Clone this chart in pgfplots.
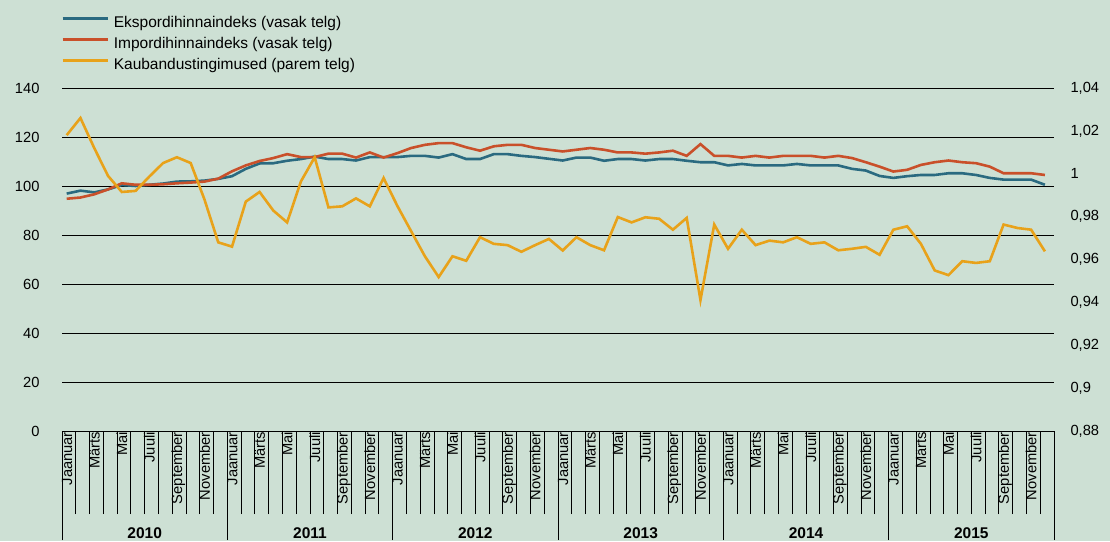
\documentclass[border=0pt]{standalone}
\usepackage{fontspec}
\setmainfont{Liberation Sans}
\usepackage{pgfplots}
\pgfplotsset{compat=1.18}
\usepackage{pgfplotstable}

\definecolor{bgcol}{RGB}{205,224,212}
\definecolor{expcol}{RGB}{42,106,128}
\definecolor{impcol}{RGB}{201,80,42}
\definecolor{totcol}{RGB}{232,162,26}

\newcommand\tf{\fontsize{14.7}{17}\selectfont}
\newcommand\lf{\fontsize{15.5}{18}\selectfont}

% month index (shifted into its band), export and import index (left), terms of trade (right)
\pgfplotstableread{
x exp imp tot
0.34 96.9 94.8 1.018
1.34 98.1 95.3 1.026
2.34 97.4 96.6 1.012
3.34 98.6 98.6 0.999
4.34 100.4 101.1 0.9915
5.34 100.0 100.5 0.992
6.34 100.5 100.5 0.9987
7.34 101.0 100.7 1.005
8.34 101.8 101.1 1.0077
9.34 101.9 101.4 1.005
10.34 102.2 101.8 0.988
11.34 102.9 103.0 0.968
12.34 104.0 106.0 0.966
13.34 107.0 108.4 0.987
14.34 109.2 110.2 0.9915
15.34 109.3 111.4 0.9828
16.34 110.3 113.0 0.9773
17.34 111.0 111.8 0.9964
18.34 112.0 111.8 1.0077
19.34 111.0 113.2 0.9843
20.34 111.0 113.2 0.9848
21.34 110.4 111.6 0.9885
22.34 111.8 113.7 0.9848
23.34 111.8 111.6 0.998
24.34 111.8 113.4 0.985
25.34 112.3 115.5 0.9732
26.34 112.3 116.8 0.9615
27.34 111.6 117.5 0.9518
28.34 113.0 117.5 0.9615
29.34 111.0 115.8 0.9594
30.34 111.0 114.4 0.9704
31.34 113.0 116.2 0.9673
32.34 113.0 116.8 0.9667
33.34 112.3 116.8 0.9636
34.34 111.8 115.5 0.9667
35.34 111.1 114.8 0.9696
36.34 110.4 114.1 0.9642
37.34 111.6 114.8 0.9704
38.34 111.6 115.5 0.9667
39.34 110.3 114.8 0.9643
40.34 111.0 113.7 0.9798
41.34 111.0 113.7 0.9773
42.34 110.4 113.2 0.9797
43.34 111.0 113.7 0.979
44.34 111.0 114.4 0.9739
45.34 110.3 112.3 0.9794
46.34 109.7 117.1 0.9411
47.34 109.7 112.3 0.9763
48.34 108.4 112.3 0.965
49.34 109.0 111.6 0.9739
50.34 108.4 112.3 0.9667
51.34 108.4 111.6 0.9688
52.34 108.4 112.3 0.968
53.34 109.0 112.3 0.9704
54.34 108.4 112.3 0.9673
55.34 108.4 111.6 0.968
56.34 108.4 112.3 0.9643
57.34 107.0 111.4 0.965
58.34 106.3 109.7 0.9659
59.34 104.1 107.9 0.9622
60.34 103.3 105.9 0.9739
61.34 104.0 106.6 0.9755
62.34 104.5 108.6 0.9673
63.34 104.5 109.7 0.9549
64.34 105.2 110.4 0.9527
65.34 105.2 109.7 0.9592
66.34 104.5 109.3 0.9584
67.34 103.3 107.9 0.9592
68.34 102.6 105.2 0.9763
69.34 102.6 105.2 0.9747
70.34 102.6 105.2 0.9739
71.34 100.5 104.5 0.9638
}\trade

\begin{document}
\begin{tikzpicture}
\fill[bgcol] (0,0) rectangle (1110pt,541pt);
\useasboundingbox (0,0) rectangle (1110pt,541pt);

\begin{axis}[
  at={(62pt,110pt)}, anchor=south west,
  scale only axis, width=992pt, height=343pt,
  xmin=0, xmax=72, ymin=0, ymax=140,
  clip=false,
  axis line style={draw=none},
  tick pos=left, tick align=outside,
  major tick length=0pt,
  ytick={0,20,...,140},
  ymajorgrids, y grid style={black, line width=0.9pt},
  yticklabel style={font=\tf, xshift=-19pt},
  /pgf/number format/assume math mode=true,
  xtick={0,2,...,70},
  xticklabels={Jaanuar,Märts,Mai,Juuli,September,November,
    Jaanuar,Märts,Mai,Juuli,September,November,
    Jaanuar,Märts,Mai,Juuli,September,November,
    Jaanuar,Märts,Mai,Juuli,September,November,
    Jaanuar,Märts,Mai,Juuli,September,November,
    Jaanuar,Märts,Mai,Juuli,September,November},
  xticklabel style={font=\tf, xshift=6pt, rotate=90, anchor=east,
    inner sep=1pt, text height=11pt, text depth=3pt},
  minor xtick={0,...,72},
  minor tick length=83pt,
  minor tick style={black, line width=0.9pt},
  extra x ticks={0,12,...,72},
  extra x tick labels={},
  extra x tick style={major tick length=109pt, tick style={black, line width=0.9pt}},
  legend style={at={(0,1)}, anchor=south west, yshift=14pt, xshift=-1pt,
    draw=none, fill=none, font=\lf, inner sep=0pt, row sep=3.5pt,
    nodes={inner sep=1pt, text height=12pt, text depth=3.5pt},
    /tikz/every odd column/.append style={column sep=4pt}},
  legend cell align=left,
  legend image code/.code={\draw[#1] (0pt,4.5pt) -- (45pt,4.5pt);},
]
\addplot[expcol, line width=2.6pt] table[x=x, y=exp] {\trade};
\addlegendentry{Ekspordihinnaindeks (vasak telg)}
\addplot[impcol, line width=2.6pt] table[x=x, y=imp] {\trade};
\addlegendentry{Impordihinnaindeks (vasak telg)}
\addlegendimage{totcol, line width=2.6pt}
\addlegendentry{Kaubandustingimused (parem telg)}

\node[font=\lf\bfseries, anchor=base, yshift=-107pt] at (axis cs:6,0) {2010};
\node[font=\lf\bfseries, anchor=base, yshift=-107pt] at (axis cs:18,0) {2011};
\node[font=\lf\bfseries, anchor=base, yshift=-107pt] at (axis cs:30,0) {2012};
\node[font=\lf\bfseries, anchor=base, yshift=-107pt] at (axis cs:42,0) {2013};
\node[font=\lf\bfseries, anchor=base, yshift=-107pt] at (axis cs:54,0) {2014};
\node[font=\lf\bfseries, anchor=base, yshift=-107pt] at (axis cs:66,0) {2015};
\end{axis}

\begin{axis}[
  at={(62pt,110pt)}, anchor=south west,
  scale only axis, width=992pt, height=343pt,
  xmin=0, xmax=72, ymin=0.88, ymax=1.04,
  axis x line=none, axis y line*=right,
  axis line style={draw=none},
  major tick length=0pt,
  ytick={0.88,0.9,0.92,0.94,0.96,0.98,1,1.02,1.04},
  yticklabel style={font=\tf, xshift=13pt, /pgf/number format/use comma},
  /pgf/number format/assume math mode=true,
]
\addplot[totcol, line width=2.6pt] table[x=x, y=tot] {\trade};
\end{axis}
\end{tikzpicture}
\end{document}
